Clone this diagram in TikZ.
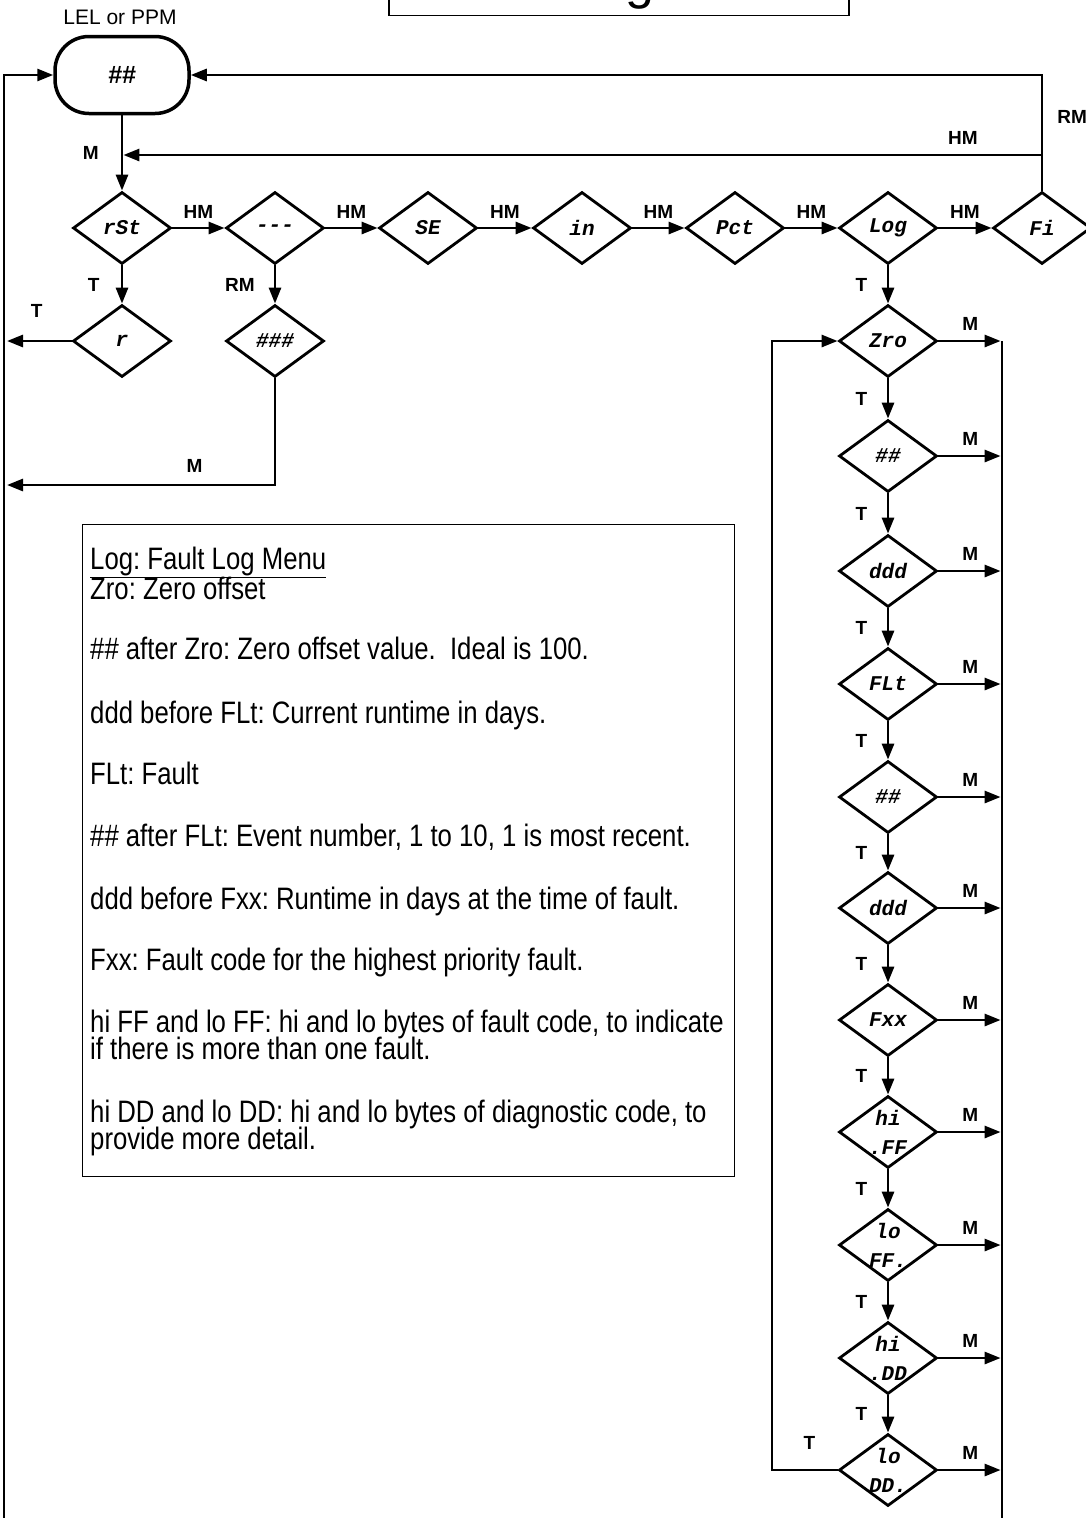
\documentclass[tikz,border=0pt]{standalone}
\usepackage{fontspec}
\setmainfont{Liberation Sans}
\newfontfamily\monof{Liberation Mono}[Ligatures=TeXOff]
\newfontfamily\descf{Liberation Sans}[FakeStretch=0.83]
\usetikzlibrary{shapes.geometric,arrows.meta}
\begin{document}
\frenchspacing
\begin{tikzpicture}[x=1pt,y=-1pt,
  dia/.style={draw, line width=2.8pt, diamond, minimum width=98pt, minimum height=72pt, inner sep=-10pt, font=\monof\bfseries\itshape\fontsize{21}{29}\selectfont, align=center},
  conn/.style={line width=2.8pt, -{Triangle[length=16pt,width=12pt]}},
  plain/.style={line width=2.8pt},
  lbl/.style={font=\bfseries\fontsize{19}{19}\selectfont, inner sep=0pt},
  tl/.style={lbl, midway, left=19.5pt},
  ml/.style={lbl, midway, above=9.5pt},
  hl/.style={lbl, midway, above=8pt},
  desc/.style={anchor=base west, inner sep=0pt, text height=20pt, text depth=5pt, font=\descf\fontsize{31}{31}\selectfont},
]
\useasboundingbox (0,0) rectangle (1085,1518);

% title
\node[draw, line width=1.2pt, minimum width=460pt, minimum height=80pt, anchor=south, inner sep=0pt] (titlebox) at (619,16) {};
\node[anchor=base, inner sep=0pt, font=\fontsize{52}{52}\selectfont] (title) at (611,-1.5) {Log};

% start
\node[font=\fontsize{21}{21}\selectfont, inner sep=0pt] (lel) at (120,17) {LEL or PPM};
\node[draw, line width=3.5pt, rectangle, rounded corners=34pt, minimum width=134pt, minimum height=77pt, inner sep=0pt, font=\bfseries\itshape\fontsize{25}{25}\selectfont] (start) at (122,75) {\#\#};

% top row
\node[dia] (rst)  at (122,228) {rSt};
\node[dia] (dash) at (275,228) {---};
\node[dia] (se)   at (428,228) {SE};
\node[dia] (in)   at (582,228) {in};
\node[dia] (pct)  at (735,228) {Pct};
\node[dia] (log)  at (888,228) {Log};
\node[dia] (fi)   at (1042,228) {Fi};

\node[dia] (r)     at (122,341) {r};
\node[dia] (hash3) at (275,341) {\#\#\#};

% column
\node[dia] (c1)  at (888,341)  {Zro};
\node[dia] (c2)  at (888,456)  {\#\#};
\node[dia] (c3)  at (888,571)  {ddd};
\node[dia] (c4)  at (888,684)  {FLt};
\node[dia] (c5)  at (888,797)  {\#\#};
\node[dia] (c6)  at (888,908)  {ddd};
\node[dia] (c7)  at (888,1020) {Fxx};
\node[dia] (c8)  at (888,1132) {hi\\.FF};
\node[dia] (c9)  at (888,1245) {lo\\FF.};
\node[dia] (c10) at (888,1358) {hi\\.DD};
\node[dia] (c11) at (888,1470) {lo\\DD.};

% coordinates
\coordinate (bl) at (4,1530);
\coordinate (rleft) at (7,341);
\coordinate (mleft) at (7,485);
\coordinate (hmj) at (1042,155);
\coordinate (rtop) at (1002,341);
\coordinate (rbot) at (1002,1530);
\coordinate (loopc) at (772,1470);

% connectors top
\draw[conn] (start.south) -- node[lbl, midway, left=22pt] {M} (rst.north);
\draw[conn] (rst.east) -- node[hl] {HM} (dash.west);
\draw[conn] (dash.east) -- node[hl] {HM} (se.west);
\draw[conn] (se.east) -- node[hl] {HM} (in.west);
\draw[conn] (in.east) -- node[hl] {HM} (pct.west);
\draw[conn] (pct.east) -- node[hl] {HM} (log.west);
\draw[conn] (log.east) -- node[hl] {HM} (fi.west);
\draw[conn] (fi.north) |- node[lbl, pos=0.32, right=14pt] {RM} (start.east);
\draw[conn, shorten >=1.4pt] (hmj) -- node[lbl, pos=0.086, above=9pt] {HM} (hmj -| start.south);
\draw[conn] (bl) |- (start.west);

\draw[conn] (rst.south) -- node[lbl, midway, left=21pt] {T} (r.north);
\draw[conn] (r.west) -- node[lbl, pos=0.54, above=22pt] {T} (rleft);
\draw[conn] (dash.south) -- node[lbl, midway, left=19pt] {RM} (hash3.north);
\draw[conn] (hash3.south) |- node[lbl, pos=0.65, above=11pt] {M} (mleft);

% column connectors
\draw[conn] (log.south) -- node[tl] {T} (c1.north);
\draw[conn] (c1.south) -- node[tl] {T} (c2.north);
\draw[conn] (c2.south) -- node[tl] {T} (c3.north);
\draw[conn] (c3.south) -- node[tl] {T} (c4.north);
\draw[conn] (c4.south) -- node[tl] {T} (c5.north);
\draw[conn] (c5.south) -- node[tl] {T} (c6.north);
\draw[conn] (c6.south) -- node[tl] {T} (c7.north);
\draw[conn] (c7.south) -- node[tl] {T} (c8.north);
\draw[conn] (c8.south) -- node[tl] {T} (c9.north);
\draw[conn] (c9.south) -- node[tl] {T} (c10.north);
\draw[conn] (c10.south) -- node[tl] {T} (c11.north);

\draw[plain] (rtop) -- (rbot);
\foreach \n in {c1,c2,c3,c4,c5,c6,c7,c8,c9,c10,c11}{
  \draw[conn, shorten >=1.4pt] (\n.east) -- node[ml] {M} (\n.east -| rtop);
}
\draw[conn] (c11.west) -- node[lbl, pos=0.43, above=19.5pt] {T} (loopc) |- (c1.west);

% description box
\node[draw, line width=1.2pt, minimum width=652pt, minimum height=652pt, anchor=north west, inner sep=0pt] (descbox) at (82,524) {};
\node[desc] (d1)  at (90,569)  {\underline{Log: Fault Log Menu}};
\node[desc] (d2)  at (90,599)  {Zro: Zero offset};
\node[desc] (d3)  at (90,659)  {\#\# after Zro: Zero offset value.\ \ Ideal is 100.};
\node[desc] (d4)  at (90,723)  {ddd before FLt: Current runtime in days.};
\node[desc] (d5)  at (90,784)  {FLt: Fault};
\node[desc] (d6)  at (90,846)  {\#\# after FLt: Event number, 1 to 10, 1 is most recent.};
\node[desc] (d7)  at (90,909)  {ddd before Fxx: Runtime in days at the time of fault.};
\node[desc] (d8)  at (90,970)  {Fxx: Fault code for the highest priority fault.};
\node[desc] (d9)  at (90,1032) {hi FF and lo FF: hi and lo bytes of fault code, to indicate};
\node[desc] (d10) at (90,1059) {if there is more than one fault.};
\node[desc] (d11) at (90,1122) {hi DD and lo DD: hi and lo bytes of diagnostic code, to};
\node[desc] (d12) at (90,1149) {provide more detail.};
\end{tikzpicture}
\end{document}
